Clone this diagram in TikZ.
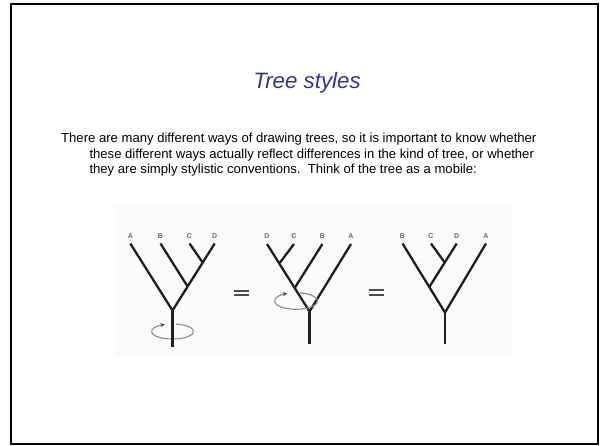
\documentclass[tikz,border=0pt]{standalone}
\usepackage{fontspec}
\setmainfont{Liberation Sans}
\usepackage{xcolor}
\usetikzlibrary{arrows.meta}
\definecolor{titleblue}{RGB}{51,51,153}

\begin{document}
\begin{tikzpicture}[x=1pt,y=-1pt,>=Stealth,
branch/.style={line width=2.3pt,draw=black!88},
leaf/.style={font=\fontsize{7}{8}\selectfont\bfseries,text=black!60,inner sep=0pt},
spin/.style={draw=black!45,line width=1.1pt,-{Stealth[length=4pt,width=4pt,black!80]}},
eqbar/.style={draw=black!70,line width=1.9pt},
body/.style={anchor=base west,inner sep=0pt,font=\fontsize{13.1}{15}\selectfont}]
\useasboundingbox (0,0) rectangle (600,445);
\fill[white] (0,0) rectangle (600,445);
\draw[line width=2pt] (10.7,3.7) rectangle (597.5,443.7);
\node[anchor=base,inner sep=0pt,text=titleblue,font=\fontsize{22.3}{26}\selectfont\itshape] (title) at (307,88) {Tree styles};
\node[body] (line1) at (61,142.3) {There are many different ways of drawing trees, so it is important to know whether};
\node[body] (line2) at (89.3,158.3) {these different ways actually reflect differences in the kind of tree, or whether};
\node[body] (line3) at (89.3,173.7) {they are simply stylistic conventions.\ \ Think of the tree as a mobile:};
\fill[black!1.5] (115,205) rectangle (513,357);
% first tree
\node[leaf] (a1) at (130.3,235.7) {A};
\node[leaf] (b1) at (160.5,235.7) {B};
\node[leaf] (c1) at (189.5,235.7) {C};
\node[leaf] (d1) at (214.7,235.7) {D};
\coordinate (ta1) at (130.3,243.5);
\coordinate (tb1) at (160.5,243.5);
\coordinate (tc1) at (189.5,243.5);
\coordinate (td1) at (214.7,243.5);
\coordinate (cd1) at (202.7,262.5);
\coordinate (bcd1) at (187.6,286.5);
\coordinate (r1) at (172.5,310.5);
\coordinate (s1) at (172.5,331.5);
\coordinate (e1) at (172.5,346.5);
\draw[spin] ([shift={(-440:21 and 7.5)}]s1) arc[start angle=-440,end angle=-112,x radius=21,y radius=7.5];
\draw[branch] (ta1)--(r1)--(td1);
\draw[branch] (tb1)--(bcd1);
\draw[branch] (tc1)--(cd1);
\draw[branch] (r1)--(e1);
\draw[eqbar] (233.5,290.8)--(248.5,290.8) (233.5,295.4)--(248.5,295.4);
% second tree
\node[leaf] (d2) at (267,235.7) {D};
\node[leaf] (c2) at (294,235.7) {C};
\node[leaf] (b2) at (322.4,235.7) {B};
\node[leaf] (a2) at (351,235.7) {A};
\coordinate (td2) at (267,244);
\coordinate (tc2) at (294,244);
\coordinate (tb2) at (322.4,244);
\coordinate (ta2) at (351,244);
\coordinate (dc2) at (279.6,263);
\coordinate (dcb2) at (294.7,288);
\coordinate (r2) at (309.5,311.5);
\coordinate (s2) at (296,301);
\coordinate (e2) at (309.5,344);
\draw[branch] (td2)--(r2)--(ta2);
\draw[branch] (tc2)--(dc2);
\draw[branch] (tb2)--(dcb2);
\draw[branch] (r2)--(e2);
\draw[spin] ([shift={(-440:21.5 and 8.3)}]s2) arc[start angle=-440,end angle=-115,x radius=21.5,y radius=8.3];
\draw[eqbar] (368.5,290.2)--(383.5,290.2) (368.5,294.8)--(383.5,294.8);
% third tree
\node[leaf] (b3) at (402.5,235.7) {B};
\node[leaf] (c3) at (431,235.7) {C};
\node[leaf] (d3) at (456.7,235.7) {D};
\node[leaf] (a3) at (486,235.7) {A};
\coordinate (tb3) at (402.5,243.5);
\coordinate (tc3) at (431,243.5);
\coordinate (td3) at (456.7,243.5);
\coordinate (ta3) at (486,243.5);
\coordinate (cd3) at (444.3,262);
\coordinate (bcd3) at (429.3,287);
\coordinate (r3) at (445,312.5);
\coordinate (e3) at (445,343.5);
\draw[branch] (tb3)--(r3)--(ta3);
\draw[branch] (td3)--(bcd3);
\draw[branch] (tc3)--(cd3);
\draw[branch] (r3)--(e3);
\end{tikzpicture}
\end{document}
